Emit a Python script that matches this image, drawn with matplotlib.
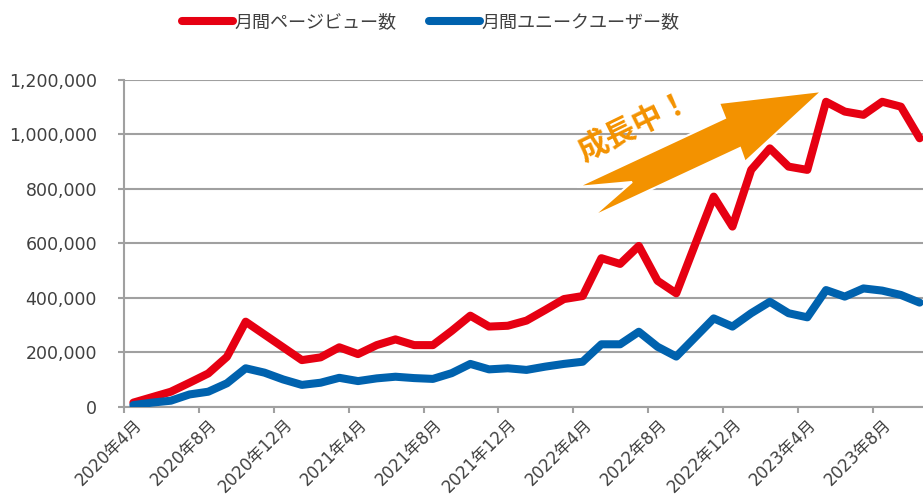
import matplotlib
matplotlib.use('Agg')
import matplotlib.pyplot as plt
from matplotlib.patches import Polygon
from matplotlib.ticker import FuncFormatter
import numpy as np

plt.rcParams['font.family'] = ['DejaVu Sans', 'Noto Sans CJK JP']

# 月別データ (2020年4月 ～ 2023年10月)
page_views = [15000, 35000, 55000, 88000, 122000, 183000, 312000, 265000, 218000, 171000,
              181000, 218000, 193000, 226000, 247000, 226000, 226000, 278000, 334000, 294000,
              297000, 316000, 355000, 395000, 406000, 545000, 524000, 590000, 462000, 416000,
              594000, 771000, 661000, 869000, 948000, 881000, 869000, 1119000, 1083000, 1071000,
              1119000, 1101000, 985000]
unique_users = [6000, 15000, 22000, 45000, 55000, 86000, 141000, 125000, 100000, 80000,
                88000, 106000, 94000, 104000, 110000, 105000, 102000, 123000, 157000, 137000,
                141000, 135000, 147000, 157000, 165000, 229000, 229000, 275000, 220000, 184000,
                254000, 324000, 294000, 343000, 385000, 343000, 328000, 428000, 404000, 434000,
                426000, 410000, 382000]
tick_labels = ['2020年4月', '2020年8月', '2020年12月', '2021年4月', '2021年8月', '2021年12月',
               '2022年4月', '2022年8月', '2022年12月', '2023年4月', '2023年8月']
y_ticks = [0, 200000, 400000, 600000, 800000, 1000000, 1200000]

W, H = 923, 498
fig = plt.figure(figsize=(W / 100, H / 100), dpi=100)
ax = fig.add_axes([124 / W, 91.3 / H, (929 - 124) / W, 327 / H])

x = np.arange(len(page_views))
red = '#E60012'
blue = '#0062AE'
grid_c = '#A0A0A0'
txt_c = '#404040'

ax.plot(x, page_views, color=red, lw=5.8, solid_capstyle='round', solid_joinstyle='round',
        label='月間ページビュー数', zorder=3)
ax.plot(x, unique_users, color=blue, lw=5.8, solid_capstyle='round', solid_joinstyle='round',
        label='月間ユニークユーザー数', zorder=3)

ax.set_xlim(-0.5, len(page_views) - 0.5)
ax.set_ylim(0, 1200000)
ax.set_yticks(y_ticks)
ax.yaxis.set_major_formatter(FuncFormatter(lambda v, p: f'{int(v):,}'))
ax.grid(axis='y', color=grid_c, lw=1.5)
ax.set_axisbelow(True)

# 目盛: 4か月ごとの区切り、ラベルはカテゴリ中央
ax.set_xticks(np.arange(-0.5, len(page_views), 4))
ax.set_xticklabels([])
ax.set_xticks(np.arange(0, len(page_views), 4), tick_labels, minor=True)
ax.tick_params(axis='x', which='major', length=4.5, width=1.5, color=grid_c)
ax.tick_params(axis='x', which='minor', length=0, pad=6, labelsize=12, labelcolor=txt_c)
for lab in ax.get_xticklabels(minor=True):
    lab.set_rotation(45)
    lab.set_ha('right')
    lab.set_va('top')
    lab.set_rotation_mode('anchor')
ax.tick_params(axis='y', length=4.5, width=1.5, color=grid_c, labelsize=12.5, labelcolor=txt_c, pad=15)

for s in ['top', 'right']:
    ax.spines[s].set_visible(False)
for s in ['left', 'bottom']:
    ax.spines[s].set_color(grid_c)
    ax.spines[s].set_linewidth(1.5)

# 成長中の矢印
pts = [(577, 187), (725, 118), (719, 103), (822, 91), (745, 162), (740, 148), (592, 217), (632, 182)]
arrow = Polygon([(px / W, 1 - py / H) for px, py in pts], closed=True, transform=fig.transFigure,
                facecolor='#F39200', edgecolor='white', lw=1.5, zorder=5)
fig.patches.append(arrow)
fig.text(634 / W, 1 - 127 / H, '成長中！', color='#F39200', fontsize=22, fontweight='bold',
         family=['Noto Sans CJK JP'], rotation=26, ha='center', va='center')

leg = fig.legend(loc='center', bbox_to_anchor=(431 / W, 1 - 22 / H), ncol=2, frameon=False,
                 handlelength=2.8, handletextpad=0.1, columnspacing=1.8,
                 prop={'family': ['Noto Sans CJK JP'], 'size': 13})
for t in leg.get_texts():
    t.set_color(txt_c)

fig.savefig('out.png', dpi=100)
